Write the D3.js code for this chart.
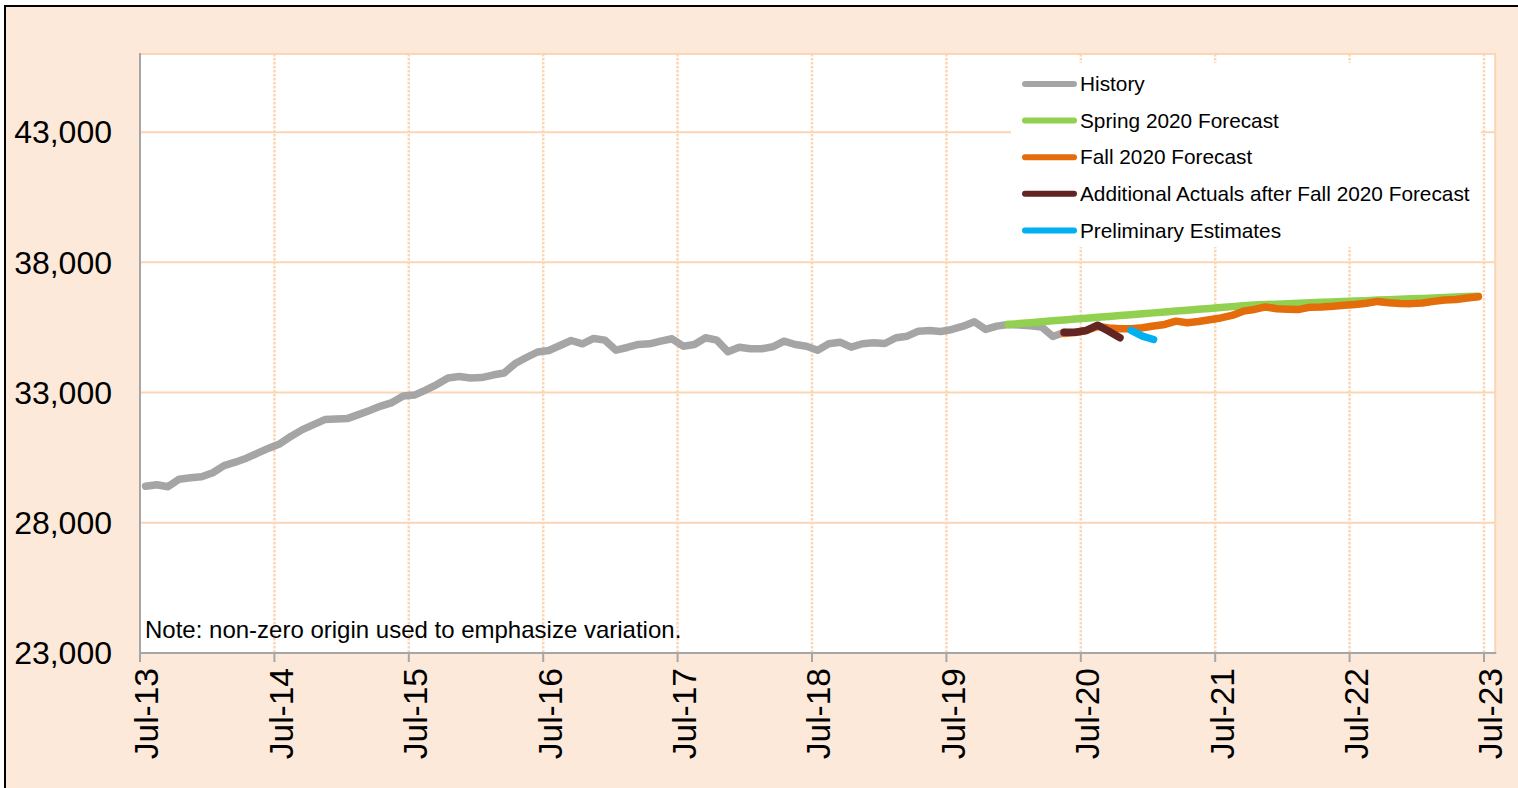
<!DOCTYPE html>
<html>
<head>
<meta charset="utf-8">
<script src="https://cdn.jsdelivr.net/npm/d3@7"></script>
<style>
    body { margin: 0; background: #fff; }
    text { font-family: Arial, "Liberation Sans", sans-serif; fill: #000; }
</style>
</head>
<body>
<svg id="chart" width="1518" height="788"></svg>
<script>
// monthly series, first value at the given start month (index 0 = Jul-13)
var tickLabels = ["Jul-13", "Jul-14", "Jul-15", "Jul-16", "Jul-17", "Jul-18",
    "Jul-19", "Jul-20", "Jul-21", "Jul-22", "Jul-23"];
var yTicks = [23000, 28000, 33000, 38000, 43000];

var historyStart = "2013-07";
var historyValues = [
    29404, 29462, 29385, 29673, 29731, 29769, 29923, 30192, 30327, 30481, 30673, 30865,
    31038, 31327, 31577, 31769, 31962, 31981, 32000, 32154, 32308, 32481, 32615, 32865,
    32904, 33096, 33308, 33558, 33615, 33558, 33577, 33673, 33750, 34115, 34346, 34558,
    34615, 34808, 35000, 34873, 35077, 35012, 34627, 34731, 34846, 34873, 34973, 35065,
    34781, 34846, 35104, 35012, 34565, 34742, 34681, 34681, 34758, 34973, 34846, 34781,
    34627, 34873, 34935, 34742, 34873, 34912, 34885, 35104, 35165, 35358, 35385, 35346,
    35423, 35550, 35719, 35423, 35550, 35615, 35596, 35565, 35519, 35154, 35308
];

var springStart = "2019-12";
var springValues = [
    35615, 35650, 35685, 35720, 35754, 35790, 35825, 35855, 35890, 35925, 35960, 35990,
    36025, 36060, 36095, 36130, 36165, 36200, 36230, 36265, 36300, 36335, 36365, 36380,
    36395, 36415, 36430, 36450, 36465, 36480, 36500, 36515, 36530, 36550, 36565, 36580,
    36600, 36615, 36630, 36650, 36665, 36685, 36700
];

var fallStart = "2020-05";
var fallValues = [
    35269, 35308, 35385, 35538, 35481, 35450, 35450, 35488, 35557, 35615, 35742, 35680,
    35730, 35796, 35865, 35961, 36127, 36192, 36288, 36219, 36203, 36192, 36280, 36288,
    36315, 36354, 36384, 36430, 36500, 36450, 36423, 36415, 36438, 36500, 36557, 36577,
    36630, 36680
];

var actualsStart = "2020-05";
var actualsValues = [35319, 35319, 35385, 35588, 35357, 35103];

var prelimStart = "2020-11";
var prelimValues = [35385, 35165, 35038];

var seriesNames = ["History", "Spring 2020 Forecast", "Fall 2020 Forecast",
    "Additional Actuals after Fall 2020 Forecast", "Preliminary Estimates"];
var seriesColors = ["#a5a5a5", "#92d050", "#e46c0a", "#632523", "#00b0f0"];

function monthIndex(s) {
    var p = s.split("-");
    return (+p[0] - 2013) * 12 + (+p[1] - 7);
}

var series = [
    { start: historyStart, values: historyValues },
    { start: springStart, values: springValues },
    { start: fallStart, values: fallValues },
    { start: actualsStart, values: actualsValues },
    { start: prelimStart, values: prelimValues }
];

var svg = d3.select("#chart");
var plotLeft = 140, plotRight = 1495.2, plotTop = 54, plotBottom = 653;

// outer chart area
svg.append("rect")
    .attr("x", 5).attr("y", 6).attr("width", 1540).attr("height", 800)
    .attr("fill", "#fde9d9").attr("stroke", "#000").attr("stroke-width", 2);

var x = d3.scaleLinear().domain([0, 121]).range([plotLeft, plotRight]);
var y = d3.scaleLinear().domain([23000, 46000]).range([plotBottom, plotTop]);

svg.append("rect")
    .attr("x", plotLeft).attr("y", plotTop)
    .attr("width", plotRight - plotLeft).attr("height", plotBottom - plotTop)
    .attr("fill", "#fff").attr("stroke", "#fcd5b4").attr("stroke-width", 2);

// horizontal gridlines
svg.append("g").selectAll("line")
    .data(yTicks.slice(1))
    .join("line")
    .attr("x1", plotLeft).attr("x2", plotRight)
    .attr("y1", function (d) { return y(d); })
    .attr("y2", function (d) { return y(d); })
    .attr("stroke", "#fcd5b4").attr("stroke-width", 2);

// vertical dotted gridlines
svg.append("g").selectAll("line")
    .data(tickLabels.slice(1))
    .join("line")
    .attr("x1", function (d, i) { return x((i + 1) * 12); })
    .attr("x2", function (d, i) { return x((i + 1) * 12); })
    .attr("y1", plotTop).attr("y2", plotBottom)
    .attr("stroke", "#fcd5b4").attr("stroke-width", 2.5)
    .attr("stroke-dasharray", "2.5,1.5");

// axes
svg.append("line")
    .attr("x1", plotLeft).attr("x2", plotLeft).attr("y1", plotTop - 1).attr("y2", plotBottom)
    .attr("stroke", "#a6a6a6").attr("stroke-width", 2);
svg.append("line")
    .attr("x1", plotLeft - 1).attr("x2", plotRight + 1).attr("y1", plotBottom).attr("y2", plotBottom)
    .attr("stroke", "#a6a6a6").attr("stroke-width", 2);

var xTicks = svg.append("g").selectAll("g")
    .data(tickLabels)
    .join("g")
    .attr("transform", function (d, i) { return "translate(" + x(i * 12) + ",0)"; });
xTicks.append("line")
    .attr("y1", plotBottom).attr("y2", plotBottom + 9)
    .attr("stroke", "#a6a6a6").attr("stroke-width", 2);
xTicks.append("text")
    .attr("transform", "translate(0," + (plotBottom + 15) + ") rotate(-90)")
    .attr("text-anchor", "end")
    .attr("dy", "0.55em")
    .style("font-size", "33.5px")
    .text(function (d) { return d; });

svg.append("g").selectAll("text")
    .data(yTicks)
    .join("text")
    .attr("x", 112)
    .attr("y", function (d) { return y(d); })
    .attr("dy", "0.35em")
    .attr("text-anchor", "end")
    .style("font-size", "32px")
    .text(d3.format(","));

svg.append("text")
    .attr("x", 145).attr("y", 638)
    .style("font-size", "24px")
    .text("Note: non-zero origin used to emphasize variation.");

// series lines
series.forEach(function (s, k) {
    var i0 = monthIndex(s.start);
    var line = d3.line()
        .x(function (d, i) { return x(i0 + i + 0.5); })
        .y(function (d) { return y(d); });
    svg.append("path")
        .attr("d", line(s.values))
        .attr("fill", "none")
        .attr("stroke", seriesColors[k])
        .attr("stroke-width", 7.5)
        .attr("stroke-linejoin", "round")
        .attr("stroke-linecap", "round");
});

// legend
var legend = svg.append("g");
legend.append("rect")
    .attr("x", 1011).attr("y", 63).attr("width", 470).attr("height", 184)
    .attr("fill", "#fff");
var items = legend.selectAll("g")
    .data(seriesNames)
    .join("g")
    .attr("transform", function (d, i) { return "translate(0," + (84 + i * 36.6) + ")"; });
items.append("line")
    .attr("x1", 1025).attr("x2", 1074)
    .attr("stroke", function (d, i) { return seriesColors[i]; })
    .attr("stroke-width", 6)
    .attr("stroke-linecap", "round");
items.append("text")
    .attr("x", 1080)
    .attr("dy", "0.35em")
    .style("font-size", "20.8px")
    .text(function (d) { return d; });
</script>
</body>
</html>
